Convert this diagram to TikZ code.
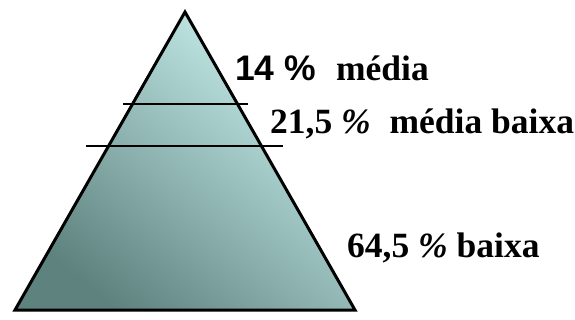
\documentclass[tikz,border=0pt]{standalone}
\usepackage{fontspec}
\setmainfont{Liberation Serif}
\newfontfamily\arialfont{Liberation Sans}
\definecolor{pyrtop}{HTML}{CBF2F0}
\definecolor{pyrbot}{HTML}{5E827E}
\begin{document}
\begin{tikzpicture}[x=1pt,y=-1pt,
  outline/.style={draw=black,line width=3pt,line join=miter},
  divider/.style={draw=black,line width=2pt},
  label/.style={anchor=base west,inner sep=0pt,font=\fontsize{35.5}{40}\selectfont\bfseries}]
\useasboundingbox (0,0) rectangle (575,320);
\coordinate (apex) at (185,12);
\coordinate (bl) at (15,310);
\coordinate (br) at (355,310);
\shade[top color=pyrtop,bottom color=pyrbot,shading angle=-40] (apex) -- (bl) -- (br) -- cycle;
\coordinate (d1l) at (123,104);
\coordinate (d1r) at (248,104);
\coordinate (d2l) at (86,146);
\coordinate (d2r) at (283,146);
\draw[divider] (d1l) -- (d1r);
\draw[divider] (d2l) -- (d2r);
\draw[outline] (apex) -- (bl) -- (br) -- cycle;
\node[label] (t1) at (235,81) {{\arialfont 14 \%}\hspace{20pt}média};
\node[label] (t2) at (270,134) {21,5 \textit{\%}\hspace{10pt} média baixa};
\node[label] (t3) at (347,258) {64,5 \textit{\%} baixa};
\end{tikzpicture}
\end{document}
